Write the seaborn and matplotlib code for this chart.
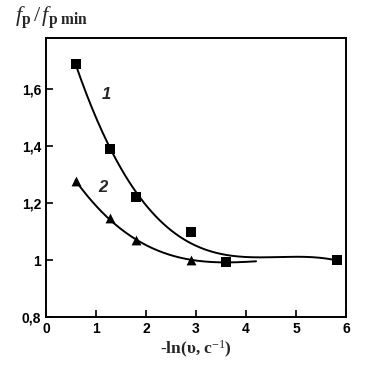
import numpy as np
import pandas as pd
import matplotlib
matplotlib.use("Agg")
import matplotlib.pyplot as plt
import seaborn as sns
from matplotlib.ticker import FuncFormatter

# data
x_sq = [0.6, 1.28, 1.8, 2.89, 3.59, 5.82]
y_sq = [1.69, 1.39, 1.22, 1.10, 0.993, 1.0]
x_tri = [0.59, 1.28, 1.8, 2.89]
y_tri = [1.278, 1.146, 1.069, 1.0]

x_ticks = [0, 1, 2, 3, 4, 5, 6]
y_ticks = [0.8, 1.0, 1.2, 1.4, 1.6]

sns.set_theme(style="ticks")
plt.rcParams['font.family'] = ['Liberation Sans', 'DejaVu Sans']
plt.rcParams['mathtext.fontset'] = 'custom'
plt.rcParams['mathtext.it'] = 'Liberation Serif:italic'
plt.rcParams['mathtext.bf'] = 'Liberation Serif:bold'
plt.rcParams['mathtext.rm'] = 'Liberation Serif'

fig = plt.figure(figsize=(3.77, 3.66), dpi=100)
ax = fig.add_axes([0.122, 0.134, 0.796, 0.762])

# polynomial trend lines through the points (like a spreadsheet trendline);
# curve 2 levels off onto the shared plateau points at 1.0
c1 = np.polyfit(x_sq, y_sq, 3)
xs1 = np.linspace(x_sq[0], x_sq[-1], 200)
x2_fit = x_tri + x_sq[4:]
y2_fit = y_tri + y_sq[4:]
c2 = np.polyfit(x2_fit, y2_fit, 3)
xs2 = np.linspace(x_tri[0], 4.2, 200)
curves = pd.DataFrame({
    "x": np.concatenate([xs1, xs2]),
    "y": np.concatenate([np.polyval(c1, xs1), np.polyval(c2, xs2)]),
    "s": ["1"] * len(xs1) + ["2"] * len(xs2),
})
sns.lineplot(data=curves, x="x", y="y", units="s", estimator=None,
             color="black", lw=1.4, ax=ax)

sns.scatterplot(x=x_sq, y=y_sq, marker="s", s=50, color="black",
                edgecolor="black", linewidth=0, ax=ax, zorder=3)
sns.scatterplot(x=x_tri, y=y_tri, marker="^", s=50, color="black",
                edgecolor="black", linewidth=0, ax=ax, zorder=3)

ax.text(1.21, 1.58, "1", fontsize=12, fontweight="bold", fontstyle="italic",
        ha="center", va="center")
ax.text(1.13, 1.255, "2", fontsize=12, fontweight="bold", fontstyle="italic",
        ha="center", va="center")

ax.set_xlim(0, 6)
ax.set_ylim(0.8, 1.78)
ax.set_xticks(x_ticks)
ax.set_yticks(y_ticks)
ax.yaxis.set_major_formatter(FuncFormatter(
    lambda v, p: "1" if abs(v - 1) < 1e-9 else f"{v:.1f}".replace(".", ",")))
ax.tick_params(direction="in", length=5, width=1.2, labelsize=10, colors="black")
for lab in ax.get_xticklabels() + ax.get_yticklabels():
    lab.set_fontweight("bold")
for sp in ax.spines.values():
    sp.set_visible(True)
    sp.set_linewidth(1.4)
    sp.set_color("black")

ax.set_xlabel("-ln(\u03c5, c$^{-1}$)", fontsize=12.5, fontweight="bold",
              family=["Liberation Serif", "DejaVu Serif"], labelpad=2)
ax.set_ylabel("")
fig.text(0.04, 0.915, r"$\mathit{f}_{\mathbf{p}}\,/\,\mathit{f}_{\mathbf{p\ min}}$",
         fontsize=16, ha="left", va="bottom")

fig.savefig("out.png", dpi=100)
